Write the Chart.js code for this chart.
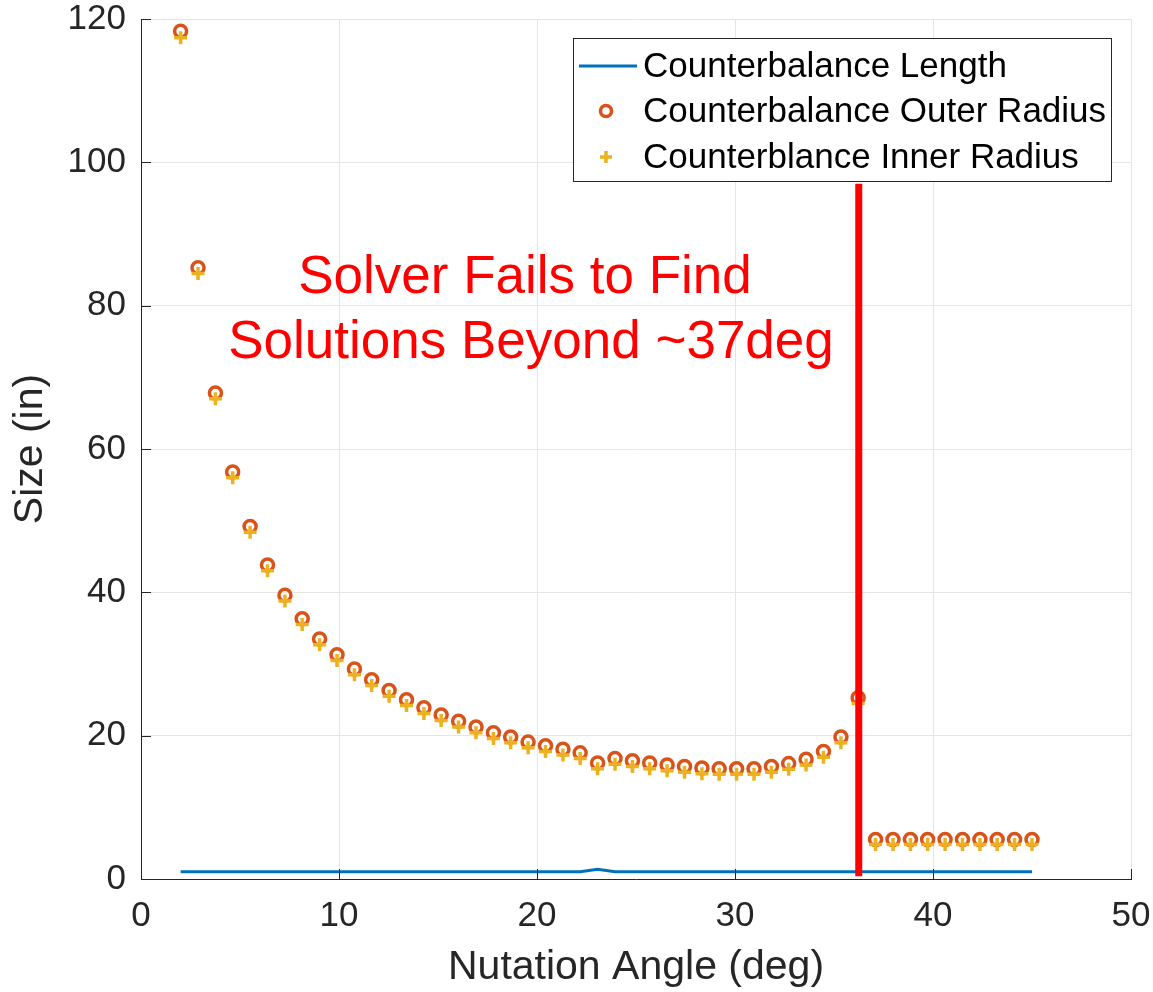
<!DOCTYPE html>
<html>
<head>
<meta charset="utf-8">
<script src="https://cdn.jsdelivr.net/npm/chart.js@4.4.1/dist/chart.umd.min.js"></script>
<style>
  body { margin: 0; background: #fff; }
  #wrap { width: 1153px; height: 992px; }
</style>
</head>
<body>
<div id="wrap"><canvas id="sizeChart" width="1153" height="992"></canvas></div>
<script>
// nutation angle (deg)
const angles = [2.00, 2.88, 3.76, 4.63, 5.51, 6.39, 7.27, 8.14, 9.02, 9.90,
  10.78, 11.65, 12.53, 13.41, 14.29, 15.16, 16.04, 16.92, 17.80, 18.67,
  19.55, 20.43, 21.31, 22.18, 23.06, 23.94, 24.82, 25.69, 26.57, 27.45,
  28.33, 29.20, 30.08, 30.96, 31.84, 32.71, 33.59, 34.47, 35.35, 36.22,
  37.10, 37.98, 38.86, 39.73, 40.61, 41.49, 42.37, 43.24, 44.12, 45.00];

const lengthVals = [1.0, 1.0, 1.0, 1.0, 1.0, 1.0, 1.0, 1.0, 1.0, 1.0,
  1.0, 1.0, 1.0, 1.0, 1.0, 1.0, 1.0, 1.0, 1.0, 1.0,
  1.0, 1.0, 1.0, 1.0, 1.35, 1.0, 1.0, 1.0, 1.0, 1.0,
  1.0, 1.0, 1.0, 1.0, 1.0, 1.0, 1.0, 1.0, 1.0, 1.0,
  1.0, 1.0, 1.0, 1.0, 1.0, 1.0, 1.0, 1.0, 1.0, 1.0];

const outerVals = [118.3, 85.3, 67.8, 56.8, 49.2, 43.8, 39.6, 36.3, 33.5, 31.3,
  29.3, 27.8, 26.3, 25.0, 23.9, 22.9, 22.0, 21.2, 20.4, 19.8,
  19.1, 18.6, 18.1, 17.6, 16.2, 16.8, 16.5, 16.2, 15.9, 15.7,
  15.5, 15.4, 15.4, 15.4, 15.7, 16.1, 16.7, 17.8, 19.8, 25.3,
  5.5, 5.5, 5.5, 5.5, 5.5, 5.5, 5.5, 5.5, 5.5, 5.5];

const innerVals = [117.4, 84.5, 67.0, 56.0, 48.4, 43.0, 38.8, 35.5, 32.7, 30.5,
  28.5, 27.0, 25.5, 24.2, 23.1, 22.1, 21.2, 20.4, 19.6, 19.0,
  18.3, 17.8, 17.3, 16.8, 15.4, 16.0, 15.7, 15.4, 15.1, 14.9,
  14.7, 14.6, 14.6, 14.6, 14.9, 15.3, 15.9, 17.0, 19.0, 24.5,
  4.8, 4.8, 4.8, 4.8, 4.8, 4.8, 4.8, 4.8, 4.8, 4.8];

// solver limit marker
const limitX = [36.25, 36.25];
const limitY = [0.4, 97];

const xTicks = [0, 10, 20, 30, 40, 50];
const yTicks = [0, 20, 40, 60, 80, 100, 120];

const seriesNames = ["Counterbalance Length", "Counterbalance Outer Radius", "Counterblance Inner Radius"];
const noteLines = ["Solver Fails to Find", "Solutions Beyond ~37deg"];

const FONT = '"Liberation Sans", Arial, Helvetica, sans-serif';
const AXIS_COLOR = "#262626";
const BLUE = "#0072BD", ORANGE = "#D95319", YELLOW = "#EDB120";

Chart.defaults.font.family = FONT;

function pts(xs, ys) {
  return xs.map((x, i) => ({ x: x, y: ys[i] }));
}

// labels may hang over the edges, don't let them shrink the plot
function noPad(s) {
  s.paddingLeft = 0;
  s.paddingRight = 0;
  s.paddingTop = 0;
  s.paddingBottom = 0;
}

// inward ticks like matlab
const innerTicks = {
  id: "innerTicks",
  afterDraw(chart) {
    const c = chart.ctx, a = chart.chartArea;
    const xs = chart.scales.x, ys = chart.scales.y;
    c.save();
    c.strokeStyle = AXIS_COLOR;
    c.lineWidth = 1;
    c.beginPath();
    xTicks.forEach((t) => {
      const px = Math.round(xs.getPixelForValue(t)) + 0.5;
      c.moveTo(px, a.bottom);
      c.lineTo(px, a.bottom - 10);
    });
    yTicks.forEach((t) => {
      const py = Math.round(ys.getPixelForValue(t)) + 0.5;
      c.moveTo(a.left, py);
      c.lineTo(a.left + 10, py);
    });
    c.stroke();
    c.restore();
  },
};

// legend box + red note
const overlay = {
  id: "overlay",
  afterDraw(chart) {
    const c = chart.ctx;
    c.save();
    // note
    c.fillStyle = "#FF0000";
    c.font = "53px " + FONT;
    c.textAlign = "center";
    c.textBaseline = "alphabetic";
    c.fillText(noteLines[0], 525, 293);
    c.fillText(noteLines[1], 531, 358);

    // legend
    const bx = 573.5, by = 38.5, bw = 538, bh = 143;
    c.fillStyle = "#fff";
    c.fillRect(bx, by, bw, bh);
    c.strokeStyle = AXIS_COLOR;
    c.lineWidth = 1;
    c.strokeRect(bx, by, bw, bh);

    const rows = [66, 111, 157];
    c.strokeStyle = BLUE;
    c.lineWidth = 3;
    c.beginPath();
    c.moveTo(579, rows[0]);
    c.lineTo(637, rows[0]);
    c.stroke();

    c.strokeStyle = ORANGE;
    c.lineWidth = 3.5;
    c.beginPath();
    c.arc(606, rows[1], 5.5, 0, Math.PI * 2);
    c.stroke();

    c.strokeStyle = YELLOW;
    c.lineWidth = 3.5;
    c.beginPath();
    c.moveTo(600, rows[2]);
    c.lineTo(612, rows[2]);
    c.moveTo(606, rows[2] - 6);
    c.lineTo(606, rows[2] + 6);
    c.stroke();

    c.fillStyle = "#000";
    c.font = "35px " + FONT;
    c.textAlign = "left";
    c.textBaseline = "middle";
    seriesNames.forEach((s, i) => c.fillText(s, 643, rows[i] + 1));
    c.restore();
  },
};

const ctx = document.getElementById("sizeChart").getContext("2d");
const sizeChart = new Chart(ctx, {
  type: "scatter",
  data: {
    datasets: [
      {
        label: seriesNames[0],
        data: pts(angles, lengthVals),
        showLine: true,
        borderColor: BLUE,
        borderWidth: 3,
        pointRadius: 0,
        tension: 0,
        order: 4,
      },
      {
        label: seriesNames[1],
        data: pts(angles, outerVals),
        pointStyle: "circle",
        pointRadius: 6,
        borderColor: ORANGE,
        backgroundColor: "rgba(0,0,0,0)",
        borderWidth: 3.5,
        order: 3,
      },
      {
        label: seriesNames[2],
        data: pts(angles, innerVals),
        pointStyle: "cross",
        pointRadius: 6.5,
        borderColor: YELLOW,
        backgroundColor: YELLOW,
        borderWidth: 3.5,
        order: 2,
      },
      {
        label: "limit",
        data: pts(limitX, limitY),
        showLine: true,
        borderColor: "#FF0000",
        borderWidth: 7,
        pointRadius: 0,
        order: 1,
      },
    ],
  },
  options: {
    responsive: false,
    animation: false,
    devicePixelRatio: 1,
    layout: { padding: { top: 19, right: 22, left: 0, bottom: 0 } },
    plugins: {
      legend: { display: false },
      tooltip: { enabled: false },
    },
    scales: {
      x: {
        type: "linear",
        min: 0,
        max: 50,
        afterFit: (s) => { s.height = 113; noPad(s); },
        afterBuildTicks: (s) => { s.ticks = xTicks.map((v) => ({ value: v })); },
        ticks: { color: AXIS_COLOR, font: { size: 35 }, padding: 16, maxRotation: 0 },
        grid: { color: "#E5E5E5", drawTicks: false },
        border: { display: true, color: AXIS_COLOR, width: 1 },
        title: {
          display: true,
          text: "Nutation Angle (deg)",
          color: AXIS_COLOR,
          font: { size: 41 },
          padding: { top: 0, bottom: 0 },
        },
      },
      y: {
        type: "linear",
        min: 0,
        max: 120,
        afterFit: (s) => { s.width = 141; noPad(s); },
        afterBuildTicks: (s) => { s.ticks = yTicks.map((v) => ({ value: v })); },
        ticks: { color: AXIS_COLOR, font: { size: 35 }, padding: 15 },
        grid: { color: "#E5E5E5", drawTicks: false },
        border: { display: true, color: AXIS_COLOR, width: 1 },
        title: {
          display: true,
          text: "Size (in)",
          color: AXIS_COLOR,
          font: { size: 41 },
          padding: { top: 6, bottom: 0 },
        },
      },
    },
  },
  plugins: [innerTicks, overlay],
});
</script>
</body>
</html>
